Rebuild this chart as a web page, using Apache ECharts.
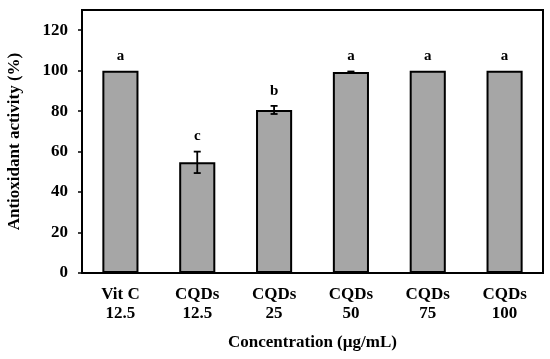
<!DOCTYPE html>
<html><head><meta charset="utf-8">
<script src="https://cdn.jsdelivr.net/npm/echarts@6/dist/echarts.min.js"></script>
<style>html,body{margin:0;padding:0;background:#fff}#c{width:550px;height:359px}</style>
</head><body><div id="c"></div>
<script>
const categories = ['Vit C\n12.5','CQDs\n12.5','CQDs\n25','CQDs\n50','CQDs\n75','CQDs\n100'];
const values = [100, 54.7, 80.6, 99.3, 100, 100];
const errors = [0, 5.3, 2.0, 0.3, 0, 0];
const letters = ['a','c','b','a','a','a'];
const yTicks = [0,20,40,60,80,100,120];

const font = '"Liberation Serif","Times New Roman",serif';
const chart = echarts.init(document.getElementById('c'));
chart.setOption({
  animation:false,
  grid:{left:82,right:7,top:10,bottom:86,show:true,borderColor:'#000',borderWidth:2,containLabel:false,outerBoundsMode:'none'},
  xAxis:{type:'category',data:categories,
    axisLine:{show:true,lineStyle:{color:'#000',width:2}},
    axisTick:{show:false},
    axisLabel:{color:'#000',fontFamily:font,fontWeight:'bold',fontSize:17,lineHeight:19,margin:12},
    name:'Concentration (µg/mL)',nameLocation:'middle',nameGap:61,
    nameTextStyle:{color:'#000',fontFamily:font,fontWeight:'bold',fontSize:17}},
  yAxis:{type:'value',min:0,max:130,interval:20,
    axisLine:{show:true,lineStyle:{color:'#000',width:2}},
    axisTick:{show:true,inside:false,length:4,lineStyle:{color:'#000',width:1.5},customValues:yTicks},
    axisLabel:{color:'#000',fontFamily:font,fontWeight:'bold',fontSize:17,margin:14,customValues:yTicks},
    splitLine:{show:false},
    name:'Antioxidant activity (%)',nameLocation:'middle',nameGap:59,
    nameTextStyle:{color:'#000',fontFamily:font,fontWeight:'bold',fontSize:17}},
  series:[
    {type:'bar',data:values,barWidth:'47%',
     itemStyle:{color:'#a6a6a6',borderColor:'#000',borderWidth:2}},
    {type:'custom',data:values.map((v,i)=>[i,v,errors[i]]),z:10,
     renderItem:function(params,api){
       const i=api.value(0),v=api.value(1),e=api.value(2),l=letters[params.dataIndex];
       const top=api.coord([i,v+e]);const bot=api.coord([i,v-e]);
       const x=top[0];const hw=3.5;
       const children=[];
       if(e>0){
         const st={stroke:'#000',lineWidth:1.8};
         children.push({type:'line',shape:{x1:x,y1:top[1],x2:x,y2:bot[1]},style:st});
         children.push({type:'line',shape:{x1:x-hw,y1:top[1],x2:x+hw,y2:top[1]},style:st});
         children.push({type:'line',shape:{x1:x-hw,y1:bot[1],x2:x+hw,y2:bot[1]},style:st});
       }
       children.push({type:'text',style:{text:l,x:x,y:top[1]-15,align:'center',verticalAlign:'middle',
         font:'bold 15px '+font,fill:'#000'}});
       return {type:'group',children:children};
     }}
  ]
});
</script></body></html>
